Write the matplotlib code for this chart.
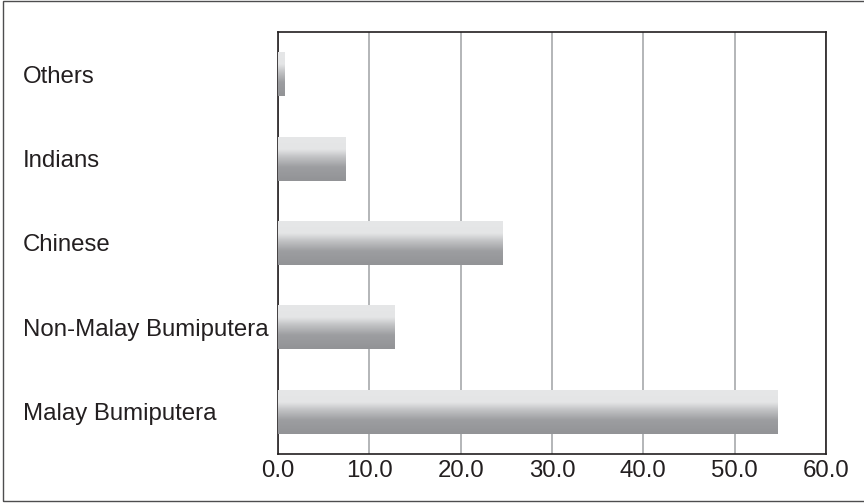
#!/usr/bin/env python3
# plot.py
# Horizontal bar chart of population share by ethnic group, with shaded bars

import matplotlib.pyplot as plt
import numpy as np
from matplotlib.colors import LinearSegmentedColormap
from matplotlib.patches import Rectangle

plt.rcParams['font.family'] = ['Liberation Sans', 'DejaVu Sans']

# bottom to top
groups = ['Malay Bumiputera', 'Non-Malay Bumiputera', 'Chinese', 'Indians', 'Others']
shares = [54.7, 12.8, 24.6, 7.4, 0.7]
x_ticks = [0, 10, 20, 30, 40, 50, 60]

text_col = '#231f20'

fig = plt.figure(figsize=(8.64, 5.03), dpi=100)
ax = fig.add_axes([278 / 864, 1 - 454 / 503, (826 - 278) / 864, (454 - 32) / 503])

# shading from light (top of bar) down to mid grey (bottom of bar)
shade = LinearSegmentedColormap.from_list('shade', [
    (0.0, '#e6e7e8'), (0.28, '#e4e5e6'), (0.45, '#c2c3c5'),
    (0.68, '#9d9ea1'), (1.0, '#929396')])
grad = np.linspace(0, 1, 256).reshape(-1, 1)

bars = ax.barh(range(len(groups)), shares, height=0.52, color='none', edgecolor='none', zorder=3)
for bar in bars:
    x0, y0 = bar.get_x(), bar.get_y()
    im = ax.imshow(grad, extent=[x0, x0 + bar.get_width(), y0, y0 + bar.get_height()],
                   origin='upper', aspect='auto', cmap=shade, zorder=3)
    im.set_clip_path(bar)

ax.set_xlim(0, 60)
ax.set_ylim(-0.5, len(groups) - 0.5)
ax.set_aspect('auto')

ax.set_xticks(x_ticks)
ax.set_xticklabels([f'{t:.1f}' for t in x_ticks])
ax.set_yticks(range(len(groups)))
ax.set_yticklabels(groups)
for lbl in ax.get_yticklabels():
    lbl.set_horizontalalignment('left')

ax.tick_params(axis='x', length=0, pad=4, labelsize=17.3, labelcolor=text_col)
ax.tick_params(axis='y', length=0, pad=(278 - 23) * 72 / 100, labelsize=17.3, labelcolor=text_col)

ax.grid(axis='x', color='#a7a9ac', linewidth=1.2, zorder=1)
ax.set_axisbelow(True)
for sp in ax.spines.values():
    sp.set_color('#231f20')
    sp.set_linewidth(1.2)

# outer frame round the whole figure
fig.patches.append(Rectangle((3 / 864, 2 / 503), 1.05, 500 / 503, transform=fig.transFigure,
                             fill=False, edgecolor='#4d4d4f', linewidth=1.0))

fig.savefig('out.png', dpi=100)
